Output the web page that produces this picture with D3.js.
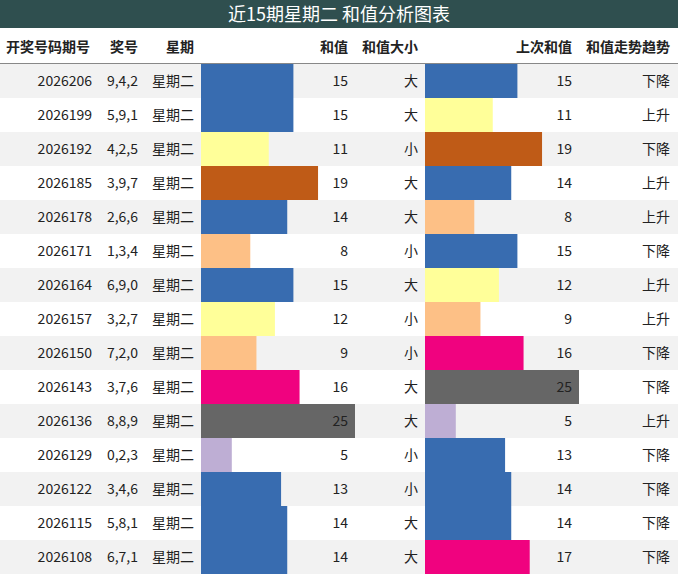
<!DOCTYPE html>
<html>
<head>
<meta charset="utf-8">
<title>近15期星期二 和值分析图表</title>
<script src="https://cdn.jsdelivr.net/npm/d3@7"></script>
<style>
  body { margin: 0; background: #fff; }
  text { font-family: "Noto Sans CJK SC", "Noto Sans", sans-serif; font-size: 14px; fill: #222; }
</style>
</head>
<body>
<script>
// chart data
var periods = ["2026206","2026199","2026192","2026185","2026178","2026171","2026164","2026157","2026150","2026143","2026136","2026129","2026122","2026115","2026108"];
var numbers = ["9,4,2","5,9,1","4,2,5","3,9,7","2,6,6","1,3,4","6,9,0","3,2,7","7,2,0","3,7,6","8,8,9","0,2,3","3,4,6","5,8,1","6,7,1"];
var weekday = "星期二";
var sums = [15,15,11,19,14,8,15,12,9,16,25,5,13,14,14];
var sizes = ["大","大","小","大","大","小","大","小","小","大","大","小","小","大","大"];
var prevSums = [15,11,19,14,8,15,12,9,16,25,5,13,14,14,17];
var trends = ["下降","上升","下降","上升","上升","下降","上升","上升","下降","下降","上升","下降","下降","下降","下降"];
var headers = ["开奖号码期号","奖号","星期","和值","和值大小","上次和值","和值走势趋势"];

var width = 678, height = 575;
var titleH = 28, headH = 36, rowH = 34;

var colorOf = function(v) {
  if (v >= 13 && v <= 15) return "#386cb0";
  if (v == 11 || v == 12) return "#ffff99";
  if (v == 19) return "#bf5b17";
  if (v == 8 || v == 9) return "#fdc086";
  if (v == 16 || v == 17) return "#f0027f";
  if (v == 25) return "#666666";
  return "#beaed4";
};

var svg = d3.select("body").append("svg")
  .attr("width", width).attr("height", height);

// title
svg.append("rect").attr("width", width).attr("height", titleH).attr("fill", "#2f4f4f");
svg.append("text").attr("x", width / 2).attr("y", 21).attr("text-anchor", "middle")
  .style("font-size", "18px").style("fill", "#fff").text("近15期星期二 和值分析图表");

// header
var headX = [48, 124, 180, 348, 390, 572, 670];
var headAnchor = ["middle","middle","middle","end","middle","end","end"];
svg.selectAll(".head").data(headers).enter().append("text")
  .attr("x", function(d, i) { return headX[i]; })
  .attr("y", titleH + 24)
  .attr("text-anchor", function(d, i) { return headAnchor[i]; })
  .style("font-weight", "bold")
  .text(function(d) { return d; });
svg.append("line").attr("x1", 0).attr("x2", width)
  .attr("y1", titleH + headH - 0.5).attr("y2", titleH + headH - 0.5)
  .attr("stroke", "#888");

var y = d3.scaleBand().domain(d3.range(periods.length))
  .range([titleH + headH, titleH + headH + rowH * periods.length]);
var xSum = d3.scaleLinear().domain([0, 25]).range([201, 355]);
var xPrev = d3.scaleLinear().domain([0, 25]).range([425, 579]);

var rows = svg.selectAll(".row").data(periods).enter().append("g")
  .attr("transform", function(d, i) { return "translate(0," + y(i) + ")"; });

rows.append("rect").attr("width", width).attr("height", rowH)
  .attr("fill", function(d, i) { return i % 2 == 0 ? "#f2f2f2" : "#fff"; });

rows.append("rect").attr("x", xSum(0)).attr("height", rowH)
  .attr("width", function(d, i) { return xSum(sums[i]) - xSum(0); })
  .attr("fill", function(d, i) { return colorOf(sums[i]); });
rows.append("rect").attr("x", xPrev(0)).attr("height", rowH)
  .attr("width", function(d, i) { return xPrev(prevSums[i]) - xPrev(0); })
  .attr("fill", function(d, i) { return colorOf(prevSums[i]); });

var ty = 22;
rows.append("text").attr("x", 92).attr("y", ty).attr("text-anchor", "end").text(function(d) { return d; });
rows.append("text").attr("x", 138).attr("y", ty).attr("text-anchor", "end").text(function(d, i) { return numbers[i]; });
rows.append("text").attr("x", 194).attr("y", ty).attr("text-anchor", "end").text(weekday);
rows.append("text").attr("x", 348).attr("y", ty).attr("text-anchor", "end").text(function(d, i) { return sums[i]; });
rows.append("text").attr("x", 418).attr("y", ty).attr("text-anchor", "end").text(function(d, i) { return sizes[i]; });
rows.append("text").attr("x", 572).attr("y", ty).attr("text-anchor", "end").text(function(d, i) { return prevSums[i]; });
rows.append("text").attr("x", 670).attr("y", ty).attr("text-anchor", "end").text(function(d, i) { return trends[i]; });
</script>
</body>
</html>
